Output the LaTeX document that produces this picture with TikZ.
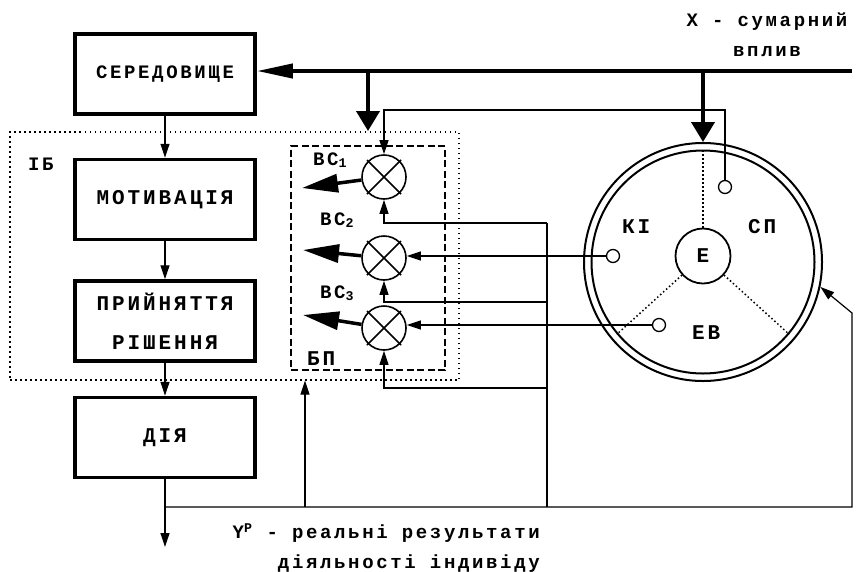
\documentclass[tikz,border=0pt]{standalone}
\usepackage{fontspec}
\newfontfamily\courb[LetterSpace=14]{Liberation Mono}
\usetikzlibrary{arrows.meta}
\tikzset{
  blk/.style={draw,line width=3.5pt,minimum width=180pt,minimum height=80pt,align=center,font=\courb\bfseries\fontsize{21}{39}\selectfont},
  lbl/.style={font=\courb\bfseries\fontsize{19}{30}\selectfont,inner sep=0pt},
  bigl/.style={font=\courb\bfseries\fontsize{21}{23}\selectfont,inner sep=0pt},
  mult/.style={circle,draw,line width=1.6pt,minimum size=44pt,inner sep=0pt},
  dot/.style={circle,draw,line width=1.3pt,minimum size=13pt,inner sep=0pt,fill=white},
  ln/.style={line width=1.2pt,-{Triangle[length=14pt,width=9pt]}},
  thk/.style={line width=4pt},
  downtip/.style={thk,-{Triangle[length=20pt,width=23pt]}},
  outtip/.style={line width=3.5pt,-{Triangle[length=36pt,width=18pt]}},
}
\begin{document}
\begin{tikzpicture}[x=1pt,y=-1pt]
\useasboundingbox (0,0) rectangle (856,571);
\node[draw,dash pattern=on 1.5pt off 3.5pt,line width=1.2pt,minimum width=449pt,minimum height=248pt] (ib) at (234.5,256) {};
\node[draw,dash pattern=on 7pt off 3.5pt,line width=1.3pt,minimum width=154pt,minimum height=224pt] (bp) at (368,258) {};
\node[blk,font=\courb\bfseries\fontsize{19}{30}\selectfont] (env) at (165,74) {СЕРЕДОВИЩЕ};
\node[blk] (mot) at (165,199.5) {МОТИВАЦІЯ};
\node[blk] (dec) at (165,321) {ПРИЙНЯТТЯ\\РІШЕННЯ};
\node[blk] (act) at (165,437.5) {ДІЯ};
\node[mult] (m1) at (384,177) {};
\node[mult] (m2) at (384,258) {};
\node[mult] (m3) at (384,328) {};
\foreach \m in {m1,m2,m3}{
  \draw[line width=1.6pt] ([shift={(-17,-17)}]\m.center) -- ([shift={(17,17)}]\m.center);
  \draw[line width=1.6pt] ([shift={(-17,17)}]\m.center) -- ([shift={(17,-17)}]\m.center);
}
\node[circle,draw,line width=2pt,minimum size=238pt] (outer) at (703,262) {};
\node[circle,draw,line width=2pt,minimum size=223pt] (inner) at (703,262) {};
\node[circle,draw,line width=1.8pt,minimum size=55pt,inner sep=0pt,bigl] (E) at (703,256) {Е};
\node[dot] (s1) at (725,187) {};
\node[dot] (ki) at (613,256) {};
\node[dot] (ev) at (659,325) {};
\node[lbl,anchor=base west] (bc1) at (313,165) {ВС\textsubscript{1}};
\node[lbl,anchor=base west] (bc2) at (320,225) {ВС\textsubscript{2}};
\node[lbl,anchor=base west] (bc3) at (320,298) {ВС\textsubscript{3}};
\node[bigl,anchor=base west] (bpl) at (307,365) {БП};
\node[lbl,anchor=base west] (ibl) at (28,170) {ІБ};
\node[bigl,anchor=base west] (kil) at (622,233) {КІ};
\node[bigl,anchor=base west] (spl) at (748,233) {СП};
\node[bigl,anchor=base west] (evl) at (692,339) {ЕВ};
\node[lbl,align=center] (xl) at (767,35) {X - сумарний\\вплив};
\node[lbl,align=right,anchor=east] (yl) at (540,548) {Y\textsuperscript{Р} - реальні результати\\діяльності індивіду};
\coordinate (xin) at (852,71);
\coordinate (j1) at (368,71);
\coordinate (t1) at (368,131);
\coordinate (j2) at (703,71);
\coordinate (k1) at (384,110);
\coordinate (b1) at (547,223);
\coordinate (b2) at (547,302);
\coordinate (b3) at (547,388);
\coordinate (b4) at (547,507);
\coordinate (y0) at (165,507);
\coordinate (yout) at (165,547);
\coordinate (br) at (852,507);
\coordinate (bu) at (852,313);
\coordinate (u0) at (305,507);
\coordinate (o1) at (302,188);
\coordinate (o2) at (303,250);
\coordinate (o3) at (303,315);
\draw[thk,-{Triangle[length=36pt,width=14pt]}] (xin) -- (xin -| env.east);
\draw[downtip] (j1) -- (t1);
\draw[downtip] (j2) -- (outer.north);
\draw[ln] (env) -- (mot);
\draw[ln] (mot) -- (dec);
\draw[ln] (dec) -- (act);
\draw[ln] (act) -- (yout);
\draw[ln] (s1.north) |- (k1) -- (m1.north);
\draw[line width=1.4pt] (b1) -- (b4);
\draw[ln] (b1) -| (m1.south);
\draw[ln] (b2) -| (m2.south);
\draw[ln] (b3) -| (m3.south);
\draw[ln] (ki) -- (ki -| m2.east);
\draw[ln] (ev) -- (ev -| m3.east);
\draw[ln] (y0) -- (br) -- (bu) -- (outer.-12);
\draw[ln] (u0) -- (u0 |- ib.south);
\draw[outtip] (m1) -- (o1);
\draw[outtip] (m2) -- (o2);
\draw[outtip] (m3) -- (o3);
\draw[line width=1.5pt,dash pattern=on 1.5pt off 2.5pt] (E) -- (inner.90);
\draw[line width=1.5pt,dash pattern=on 1.5pt off 2.5pt] (E) -- (inner.220);
\draw[line width=1.5pt,dash pattern=on 1.5pt off 2.5pt] (E) -- (inner.320);
\end{tikzpicture}
\end{document}
